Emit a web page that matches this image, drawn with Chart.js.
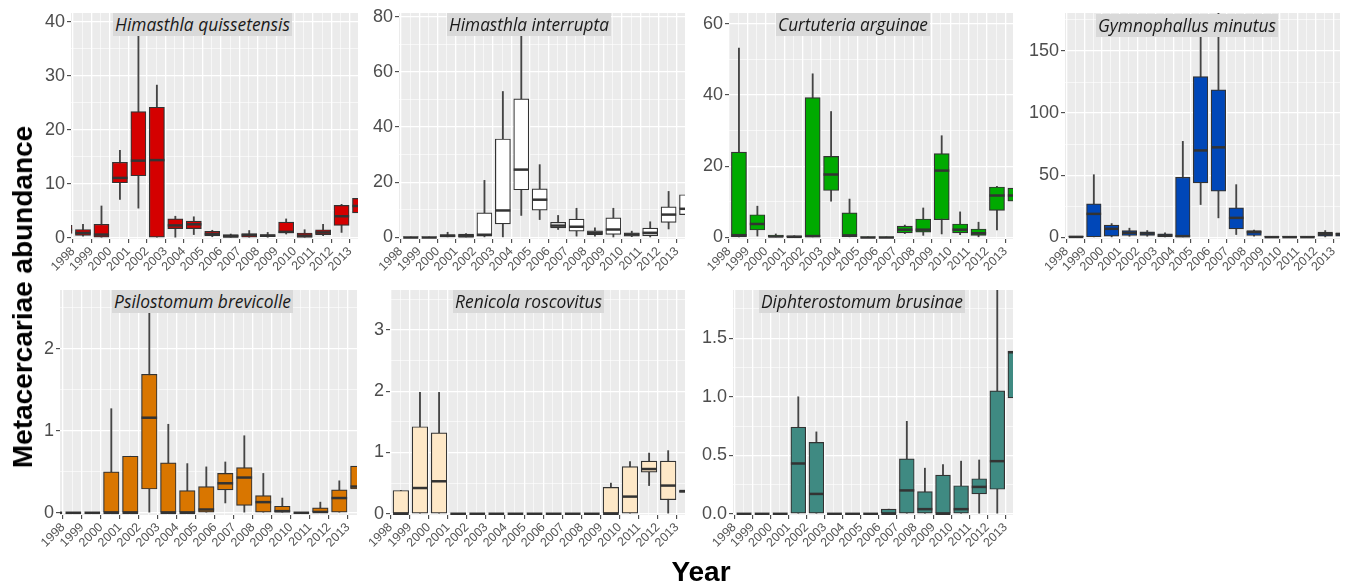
<!DOCTYPE html>
<html>
<head>
<meta charset="utf-8">
<script src="https://cdn.jsdelivr.net/npm/chart.js@4.4.1/dist/chart.umd.min.js"></script>
<style>
html,body{margin:0;padding:0;background:#fff;}
body{width:1346px;height:586px;position:relative;overflow:hidden;}
canvas{position:absolute;}
.strip{position:absolute;background:#d9d9d9;color:#1a1a1a;font-family:'Open Sans',sans-serif;font-style:italic;text-align:center;white-space:nowrap;overflow:hidden;z-index:5;}
.ttl{position:absolute;font-family:'Liberation Sans',Arial,sans-serif;font-weight:bold;color:#000;white-space:nowrap;z-index:5;}
</style>
</head>
<body>
<script>
// ---------- DATA ----------
const years = [1997,1998,1999,2000,2001,2002,2003,2004,2005,2006,2007,2008,2009,2010,2011,2012,2013];
const tickYears = [1998,1999,2000,2001,2002,2003,2004,2005,2006,2007,2008,2009,2010,2011,2012,2013];

// Himasthla quissetensis
const hqMin = [0.5, 0.3, 0,   7.1, 5.5, 0,    0,   0.6, 0.2, 0,    0,    0.1, 0.7, 0,    0.4, 1.0, 4.0];
const hqQ1  = [0.8, 0.43,0,  10.2,11.5, 0,    1.7, 1.7, 0.4, 0.06, 0.1,  0.2, 0.9, 0.06, 0.6, 2.3, 4.6];
const hqMed = [1.5, 0.9, 0.6,11.1,14.3, 14.4, 2.3, 2.5, 0.7, 0.3,  0.5,  0.4, 1.1, 0.4,  1.0, 4.0, 5.9];
const hqQ3  = [2.3, 1.54,2.5,14.0,23.4, 24.2, 3.5, 3.1, 1.2, 0.6,  0.8,  0.6, 2.9, 0.9,  1.5, 6.0, 7.3];
const hqMax = [2.5, 2.5, 5.9,16.2,39,   28.3, 4.0, 3.9, 1.4, 0.7,  1.35, 1.0, 3.5, 1.5,  2.5, 6.2, 7.7];
const hqTicks = [0,10,20,30,40];

// Himasthla interrupta
const hiMin = [null, 0,   0,   0,   0,   0,   0,    8.0, 6.5, 2.9, 0.5, 0.5, 0.2, 0.3, 0.2, 3.1, 7.7];
const hiQ1  = [null, 0,   0,   0,   0.1, 0.5, 4.9, 17.3, 9.9, 3.5, 2.3, 1.0, 1.1, 0.5, 0.7, 5.5, 8.3];
const hiMed = [null, 0,   0,   0.6, 0.5, 1.0, 9.8, 24.6,13.7, 4.3, 3.9, 1.7, 2.9, 1.1, 1.7, 8.3,10.4];
const hiQ3  = [null, 0.2, 0.2, 1.1, 1.2, 8.9,35.7, 50.2,17.6, 5.5, 6.7, 2.4, 7.1, 1.7, 3.4,11.1,15.5];
const hiMax = [null, 0.2, 0.2, 1.9, 1.4,20.7,52.9, 74,  26.4, 8.0,10.6, 3.5,10.6, 2.3, 5.7,16.7,15.9];
const hiTicks = [0,20,40,60,80];

// Curtuteria arguinae
const caMin = [null, 0,    0.4, 0,   0,   0,    10.2, 0,    0,   0,   1.1, 0.6, 1.0,  0.8, 0.2, 2.1, 10.2];
const caQ1  = [null, 0,    2.1, 0,   0,   0,    13.2, 0,    0,   0,   1.3, 1.5, 5.0,  1.3, 0.6, 7.6, 10.2];
const caMed = [null, 0.65, 3.8, 0.3, 0.2, 0.4,  17.7, 0.6,  0,   0,   2.2, 2.2, 18.8, 2.2, 1.2, 11.8,11.8];
const caQ3  = [null, 24.0, 6.4, 0.7, 0.5, 39.3, 22.8, 6.9,  0.1, 0.1, 3.2, 5.2, 23.6, 3.8, 2.4, 14.2,13.9];
const caMax = [null, 53.2, 8.8, 1.0, 0.5, 46,   35.4, 10.8, 0.1, 0.1, 3.5, 8.3, 28.6, 7.2, 4.3, 14.4,14.4];
const caTicks = [0,20,40,60];

// Gymnophallus minutus
const gmMin = [null, 0,   0,    0.5, 1.0, 1.0, 0,   0,    26.5,  15.8,  2.4, 1.0, 0,   0,   0,   0.5, 0.5];
const gmQ1  = [null, 0,   0,    1.1, 1.6, 1.6, 0,   0,    43.9,  37.2,  7.0, 1.6, 0,   0,   0,   1.1, 1.1];
const gmMed = [null, 0.5, 19,   7.0, 3.7, 3.2, 1.6, 1.1,  70,    72.5, 15.8, 4.3, 0.3, 0.3, 0.3, 2.7, 2.7];
const gmQ3  = [null, 1,   27,   9.9, 5.6, 4.5, 2.9, 48.4, 129.4, 118.7,23.8, 5.6, 0.8, 0.8, 0.8, 4.3, 3.7];
const gmMax = [null, 1,   50.5,11.2, 7.5, 5.6, 3.7, 77.3, 170,   185,  42.5, 5.9, 0.8, 0.8, 0.8, 5.6, 4.3];
const gmTicks = [0,50,100,150];

// Psilostomum brevicolle
const pbMin = [0, 0, 0, 0,    0,    0,    0,    0,    0,    0.12, 0,    0,    0,    0, 0,    0,    0.13];
const pbQ1  = [0, 0, 0, 0,    0,    0.29, 0,    0,    0,    0.28, 0.09, 0,    0,    0, 0,    0,    0.29];
const pbMed = [0, 0, 0, 0,    0,    1.16, 0,    0,    0.04, 0.36, 0.43, 0.13, 0.02, 0, 0.01, 0.18, 0.32];
const pbQ3  = [0, 0, 0, 0.50, 0.69, 1.69, 0.61, 0.27, 0.32, 0.48, 0.55, 0.21, 0.08, 0, 0.06, 0.28, 0.57];
const pbMax = [0, 0, 0, 1.27, 0.69, 2.6,  1.08, 0.60, 0.56, 0.62, 0.94, 0.48, 0.18, 0, 0.13, 0.39, 0.61];
const pbTicks = [0,1,2];

// Renicola roscovitus
const rrMin = [null, 0,    0,    0,    0,0,0,0,0,0,0,0, 0,    0,    0.46, 0,    0.34];
const rrQ1  = [null, 0,    0,    0,    0,0,0,0,0,0,0,0, 0,    0,    0.68, 0.23, 0.35];
const rrMed = [null, 0,    0.42, 0.53, 0,0,0,0,0,0,0,0, 0,    0.28, 0.73, 0.46, 0.37];
const rrQ3  = [null, 0.38, 1.42, 1.32, 0,0,0,0,0,0,0,0, 0.43, 0.77, 0.86, 0.86, 0.38];
const rrMax = [null, 0.38, 1.98, 1.98, 0,0,0,0,0,0,0,0, 0.50, 0.85, 0.99, 1.03, 0.38];
const rrTicks = [0,1,2,3];

// Diphterostomum brusinae
const dbMin = [null, 0,0,0, 0,    0,    0,0,0, 0,    0,    0,    0,    0,    0,    0,    0.99];
const dbQ1  = [null, 0,0,0, 0,    0,    0,0,0, 0,    0,    0,    0,    0,    0.17, 0.21, 0.99];
const dbMed = [null, 0,0,0, 0.43, 0.17, 0,0,0, 0,    0.20, 0.04, 0,    0.04, 0.23, 0.45, 1.38];
const dbQ3  = [null, 0,0,0, 0.74, 0.61, 0,0,0, 0.04, 0.47, 0.19, 0.33, 0.24, 0.30, 1.05, 1.39];
const dbMax = [null, 0,0,0, 1.0,  0.70, 0,0,0, 0.04, 0.79, 0.39, 0.42, 0.45, 0.46, 2.5,  1.51];
const dbTicks = [0,0.5,1.0,1.5];

// ---------- LAYOUT / STYLE ----------
const BOX_SHIFT = 0.54;   // boxes sit just right of each year tick
const BOX_FRAC = 0.82;    // box width as fraction of one year

const panels = [
  {name:'Himasthla quissetensis', fill:'#d40000', min:hqMin,q1:hqQ1,med:hqMed,q3:hqQ3,max:hqMax, ticks:hqTicks, dec:0,
   box:[71,13,358,239.5], x:[1997.89,2013.43], y:[-0.22,41.66], strip:[113,13,179,23]},
  {name:'Himasthla interrupta', fill:'#ffffff', min:hiMin,q1:hiQ1,med:hiMed,q3:hiQ3,max:hiMax, ticks:hiTicks, dec:0,
   box:[399,13,685,239.5], x:[1997.9,2013.43], y:[-0.54,81.34], strip:[447,13,164,23]},
  {name:'Curtuteria arguinae', fill:'#00aa00', min:caMin,q1:caQ1,med:caMed,q3:caQ3,max:caMax, ticks:caTicks, dec:0,
   box:[729,13,1013,239.5], x:[1998.0,2013.41], y:[-0.42,63.08], strip:[776,13,154,23]},
  {name:'Gymnophallus minutus', fill:'#0047b8', min:gmMin,q1:gmQ1,med:gmMed,q3:gmQ3,max:gmMax, ticks:gmTicks, dec:0,
   box:[1065,13,1340,239.5], x:[1997.92,2013.37], y:[-1.2,180.5], strip:[1096,14,182,23]},
  {name:'Psilostomum brevicolle', fill:'#d97600', min:pbMin,q1:pbQ1,med:pbMed,q3:pbQ3,max:pbMax, ticks:pbTicks, dec:0,
   box:[60,290,357,515.5], x:[1997.84,2013.47], y:[-0.027,2.718], strip:[112,290,181,23]},
  {name:'Renicola roscovitus', fill:'#fee8c7', min:rrMin,q1:rrQ1,med:rrMed,q3:rrQ3,max:rrMax, ticks:rrTicks, dec:0,
   box:[390,290,685,515.5], x:[1997.97,2013.42], y:[-0.02,3.65], strip:[453,290,151,23]},
  {name:'Diphterostomum brusinae', fill:'#3f8a82', min:dbMin,q1:dbQ1,med:dbMed,q3:dbQ3,max:dbMax, ticks:dbTicks, dec:1,
   box:[733,290,1013,515.5], x:[1997.93,2013.41], y:[-0.01,1.912], strip:[759,290,206,23]}
];

const YW = 40, TP = 14, RP = 14, XH = 46;

function minorBetween(majors, lo, hi) {
  const out = [];
  const step = majors[1] - majors[0];
  for (let i = 0; i < majors.length; i++) {
    const m = majors[i] + step / 2;
    if (m > lo && m < hi) out.push(m);
  }
  const before = majors[0] - step / 2;
  if (before > lo) out.push(before);
  return out;
}

function makePanel(p) {
  const [L, T, R, B] = p.box;
  const w = R - L, h = B - T;
  const cv = document.createElement('canvas');
  cv.width = YW + w + RP; cv.height = TP + h + XH;
  cv.style.left = (L - YW) + 'px'; cv.style.top = (T - TP) + 'px';
  document.body.appendChild(cv);

  const pxPerYear = w / (p.x[1] - p.x[0]);
  const boxData = [], whiskData = [], meds = [];
  years.forEach((yr, i) => {
    if (p.q1[i] == null) return;
    const xv = yr + BOX_SHIFT;
    boxData.push({x: xv, y: [p.q1[i], p.q3[i]]});
    whiskData.push({x: xv, y: [p.min[i], p.max[i]]});
    meds.push(p.med[i]);
  });

  const xTicks = tickYears.map(v => ({value: v}))
    .concat(minorBetween(tickYears, p.x[0], p.x[1]).map(v => ({value: v, minor: true})));
  xTicks.sort((a, b) => a.value - b.value);
  const yTicks = p.ticks.map(v => ({value: v}))
    .concat(minorBetween(p.ticks, p.y[0], p.y[1]).map(v => ({value: v, minor: true})));
  yTicks.sort((a, b) => a.value - b.value);

  const gridLW = ctx => (ctx.tick && ctx.tick.minor) ? 0.6 : 1.3;
  const tickC = ctx => (ctx.tick && ctx.tick.minor) ? 'rgba(0,0,0,0)' : '#333333';

  const bgPlugin = {
    id: 'panelBg',
    beforeDraw(chart) {
      const a = chart.chartArea, c = chart.ctx;
      c.save(); c.fillStyle = '#ebebeb';
      c.fillRect(a.left, a.top, a.right - a.left, a.bottom - a.top);
      c.restore();
    }
  };
  const medPlugin = {
    id: 'medians',
    afterDatasetsDraw(chart) {
      const meta = chart.getDatasetMeta(1);
      const ys = chart.scales.y, a = chart.chartArea, c = chart.ctx;
      c.save();
      c.beginPath(); c.rect(a.left, a.top, a.right - a.left, a.bottom - a.top); c.clip();
      c.strokeStyle = '#333333'; c.lineWidth = 2.5;
      meta.data.forEach((el, i) => {
        const m = meds[i]; if (m == null) return;
        const yy = ys.getPixelForValue(m);
        c.beginPath(); c.moveTo(el.x - el.width / 2, yy); c.lineTo(el.x + el.width / 2, yy); c.stroke();
      });
      c.restore();
    }
  };

  new Chart(cv, {
    type: 'bar',
    data: {
      datasets: [
        {label: 'whisker', data: whiskData, backgroundColor: '#444444', borderWidth: 0,
         barThickness: 1.2, grouped: false, order: 2, clip: 0},
        {label: 'box', data: boxData, backgroundColor: p.fill, borderColor: '#333333', borderWidth: 1.2,
         borderSkipped: false, barThickness: BOX_FRAC * pxPerYear, grouped: false, order: 1, clip: 0}
      ]
    },
    options: {
      responsive: false, animation: false, devicePixelRatio: 1,
      layout: {padding: {top: TP, right: RP, left: 0, bottom: 0}},
      plugins: {legend: {display: false}, tooltip: {enabled: false}, title: {display: false}},
      scales: {
        x: {
          type: 'linear', min: p.x[0], max: p.x[1], offset: false,
          afterBuildTicks: s => { s.ticks = xTicks.map(t => Object.assign({}, t)); },
          afterFit: s => { s.height = XH; },
          border: {display: false},
          grid: {offset: false, color: '#ffffff', lineWidth: gridLW, tickColor: tickC, tickWidth: 1, tickLength: 4, drawTicks: true},
          ticks: {autoSkip: false, minRotation: 45, maxRotation: 45, padding: 1, color: '#555555',
                  font: {family: "'Liberation Sans', Arial, sans-serif", size: 12.5},
                  callback: (v, i, tk) => tk[i] && tk[i].minor ? '' : String(Math.round(v))}
        },
        y: {
          type: 'linear', min: p.y[0], max: p.y[1],
          afterBuildTicks: s => { s.ticks = yTicks.map(t => Object.assign({}, t)); },
          afterFit: s => { s.width = YW; },
          border: {display: false},
          grid: {color: '#ffffff', lineWidth: gridLW, tickColor: tickC, tickWidth: 1, tickLength: 4, drawTicks: true},
          ticks: {padding: 2, color: '#4d4d4d', font: {family: "'Liberation Sans', Arial, sans-serif", size: 18},
                  callback: (v, i, tk) => tk[i] && tk[i].minor ? '' : Number(v).toFixed(p.dec)}
        }
      }
    },
    plugins: [bgPlugin, medPlugin]
  });
}

function addStrip(p) {
  const [l, t, w, h] = p.strip;
  const d = document.createElement('div');
  d.className = 'strip'; d.textContent = p.name;
  d.style.left = l + 'px'; d.style.top = t + 'px';
  d.style.width = w + 'px'; d.style.height = h + 'px'; d.style.lineHeight = h + 'px';
  const m = document.createElement('canvas').getContext('2d');
  m.font = "italic 100px 'Open Sans'";
  const tw = m.measureText(p.name).width;
  d.style.fontSize = Math.min(18, 100 * (w - 4) / tw).toFixed(2) + 'px';
  document.body.appendChild(d);
}

panels.forEach(makePanel);
panels.forEach(addStrip);

const yT = document.createElement('div');
yT.className = 'ttl'; yT.textContent = 'Metacercariae abundance';
yT.style.fontSize = '28px';
yT.style.left = '23px'; yT.style.top = '297px';
yT.style.transform = 'translate(-50%,-50%) rotate(-90deg)';
document.body.appendChild(yT);

const xT = document.createElement('div');
xT.className = 'ttl'; xT.textContent = 'Year';
xT.style.fontSize = '28px';
xT.style.left = '701px'; xT.style.top = '572px';
xT.style.transform = 'translate(-50%,-50%)';
document.body.appendChild(xT);
</script>
</body>
</html>
